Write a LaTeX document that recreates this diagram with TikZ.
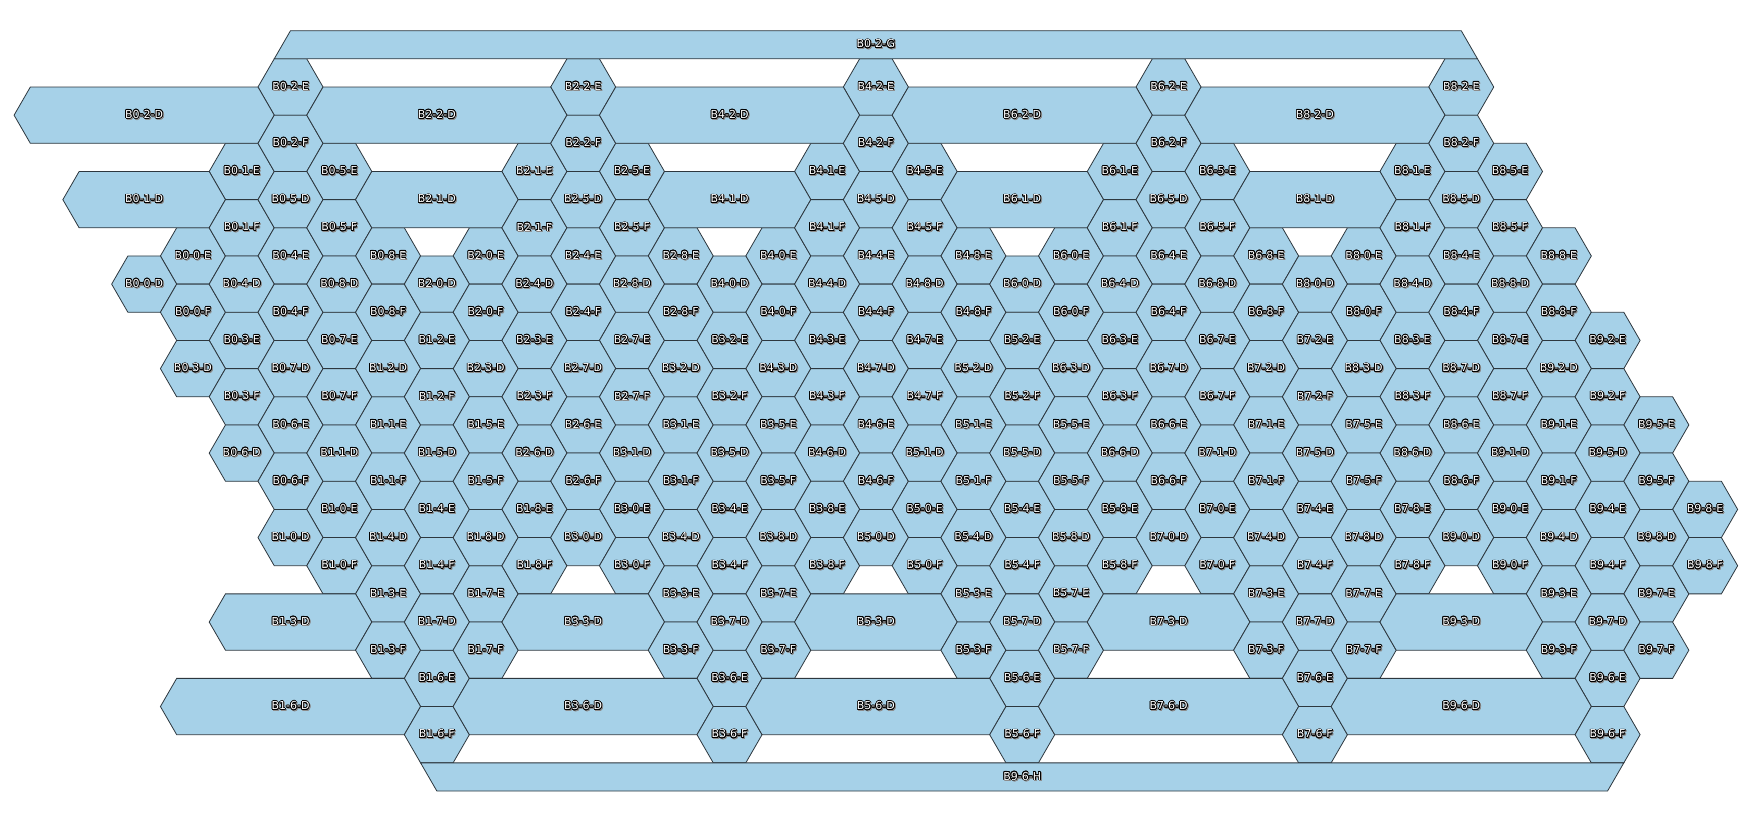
\documentclass[tikz,border=0pt]{standalone}
\usepackage{fontspec}
\setmainfont{DejaVu Sans}
\usepackage{tikz}
\usepackage{contour}
\contourlength{0.7pt}
\definecolor{cellblue}{RGB}{166,209,232}
\definecolor{cellline}{RGB}{45,55,62}
% lattice: circumradius, half height, column and row positions
\def\hR{32.52} \def\hH{28.16}
\newcommand\colx[1]{290.5+48.78*(#1)}
\newcommand\rowy[1]{2.52+28.16*(#1)}
\newcommand\halo[1]{\rlap{\kern1pt\raisebox{-1pt}{\color{black!45}\contour{black!45}{#1}}}{\color{white}\contour{black}{#1}}}
% cell from column #1 to #2 on row #3, label #4
\newcommand\drawcell[4]{%
  \pgfmathsetmacro\cxa{\colx{#1}}
  \pgfmathsetmacro\cxb{\colx{#2}}
  \pgfmathsetmacro\cyy{\rowy{#3}}
  \draw[cell] (\cxa-\hR,\cyy) -- (\cxa-\hR/2,\cyy-\hH) -- (\cxb+\hR/2,\cyy-\hH) -- (\cxb+\hR,\cyy)
    -- (\cxb+\hR/2,\cyy+\hH) -- (\cxa-\hR/2,\cyy+\hH) -- cycle;
  \node[lbl] (#4) at ({(\cxa+\cxb)/2},\cyy) {\halo{#4}};
}

\begin{document}
\begin{tikzpicture}[x=1pt,y=-1pt,
  cell/.style={fill=cellblue,draw=cellline,line width=0.8pt},
  lbl/.style={font=\fontsize{11}{13}\selectfont,inner sep=0pt}]
\useasboundingbox (0,0) rectangle (1763,820);
% Blocks: number / origin column / origin row
\foreach \b/\oc/\orow in {0/-2/9,2/4/9,4/10/9,6/16/9,8/22/9,1/1/18,3/7/18,5/13/18,7/19/18,9/25/18}
  \foreach \u in {0,...,8} {
    \pgfmathtruncatemacro\ca{\oc+int(\u/3)+mod(\u,3)}
    \pgfmathtruncatemacro\ra{\orow+3*int(\u/3)-3*mod(\u,3)}
    \pgfmathtruncatemacro\ext{\orow==9 ? (\u==2 ? 4 : (\u==1 ? 2 : 0)) : (\u==6 ? 4 : (\u==3 ? 2 : 0))}
    \pgfmathtruncatemacro\cd{\ca-1}
    \pgfmathtruncatemacro\cdl{\ca-1-\ext}
    \pgfmathtruncatemacro\rd{\ra+1}
    \pgfmathtruncatemacro\rf{\ra+2}
    \drawcell{\ca}{\ca}{\ra}{B\b-\u-E}
    \drawcell{\cdl}{\cd}{\rd}{B\b-\u-D}
    \drawcell{\ca}{\ca}{\rf}{B\b-\u-F}
  }
% top and bottom bands
\draw[cell] ({\colx{0}-\hR/2},{\rowy{2}}) -- ({\colx{0}},{\rowy{1}}) -- ({\colx{24}},{\rowy{1}}) -- ({\colx{24}+\hR/2},{\rowy{2}}) -- cycle;
\node[lbl] (B0-2-G) at ({\colx{12}},{\rowy{1.5}}) {\halo{B0-2-G}};
\draw[cell] ({\colx{3}-\hR/2},{\rowy{27}}) -- ({\colx{27}+\hR/2},{\rowy{27}}) -- ({\colx{27}},{\rowy{28}}) -- ({\colx{3}},{\rowy{28}}) -- cycle;
\node[lbl] (B9-6-H) at ({\colx{15}},{\rowy{27.5}}) {\halo{B9-6-H}};
\end{tikzpicture}
\end{document}
